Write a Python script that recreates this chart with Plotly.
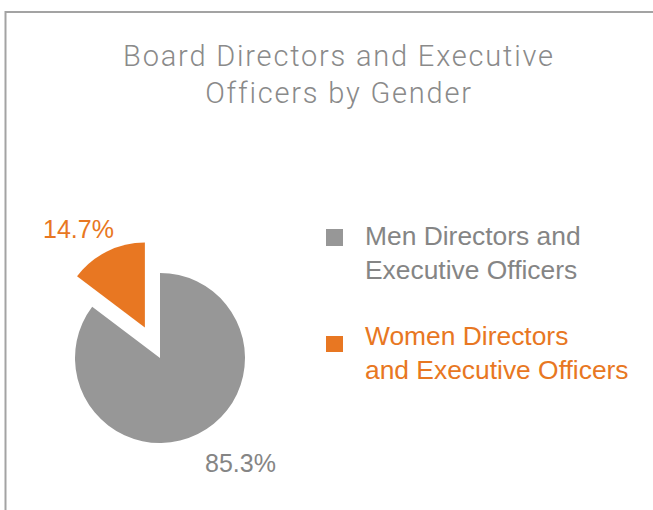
import plotly.graph_objects as go

# Data
labels = ["Men Directors and Executive Officers", "Women Directors and Executive Officers"]
legend_text = ["Men Directors and<br>Executive Officers", "Women Directors<br>and Executive Officers"]
values = [85.3, 14.7]
pct_labels = ["85.3%", "14.7%"]
colors = ["#979797", "#E87722"]
text_colors = ["#858585", "#E87722"]
pulls = [0, 0.4]
title_lines = ["Board Directors and Executive", "Officers by Gender"]

W, H = 653, 510

def px(x):
    return x / W

def py(y):
    return (H - y) / H

fig = go.Figure(go.Pie(
    labels=labels,
    values=values,
    marker=dict(colors=colors, line=dict(width=0)),
    pull=pulls,
    sort=False,
    direction="clockwise",
    rotation=0,
    textinfo="none",
    showlegend=False,
    domain=dict(x=[px(41), px(279)], y=[py(477), py(239)]),
))

annotations = []
# percentage labels
pct_pos = [(240.5, 463.3), (78, 229.3)]
for t, c, (x, y) in zip(pct_labels, text_colors, pct_pos):
    annotations.append(dict(
        text=t, x=px(x), y=py(y), xref="paper", yref="paper",
        xanchor="center", yanchor="middle", showarrow=False,
        font=dict(family="Liberation Sans, Arial", size=25, color=c),
    ))

# legend
leg_text_y = [253, 352.5]
leg_sq = [(229, 246), (336, 352)]
shapes = []
for t, c, tc, y, (s0, s1) in zip(legend_text, colors, text_colors, leg_text_y, leg_sq):
    annotations.append(dict(
        text=t, x=px(363), y=py(y), xref="paper", yref="paper",
        xanchor="left", yanchor="middle", align="left", showarrow=False,
        font=dict(family="Liberation Sans, Arial", size=26.4, color=tc),
    ))
    shapes.append(dict(type="rect", xref="paper", yref="paper",
                       x0=px(326), x1=px(343), y0=py(s1), y1=py(s0),
                       fillcolor=c, line=dict(width=0)))

# frame
shapes.append(dict(type="rect", xref="paper", yref="paper",
                   x0=px(5.5), x1=1.2, y0=-0.2, y1=py(12),
                   fillcolor="rgba(0,0,0,0)", line=dict(color="#a3a3a3", width=2)))

title_text = "<br>".join(
    "<span style='letter-spacing:1.8px'>%s</span>" % ln for ln in title_lines
)

fig.update_layout(
    width=W, height=H,
    margin=dict(l=0, r=0, t=0, b=0),
    paper_bgcolor="white",
    plot_bgcolor="white",
    title=dict(
        text=title_text,
        x=px(339), xanchor="center", xref="paper",
        y=py(65.5), yanchor="top", yref="container",
        font=dict(family="Roboto", size=29, color="#8a8a8a", weight=300),
    ),
    annotations=annotations,
    shapes=shapes,
)

fig.write_html("out.html", config={"displayModeBar": False},
               post_script="document.body.style.margin='0';document.body.style.padding='0';")
